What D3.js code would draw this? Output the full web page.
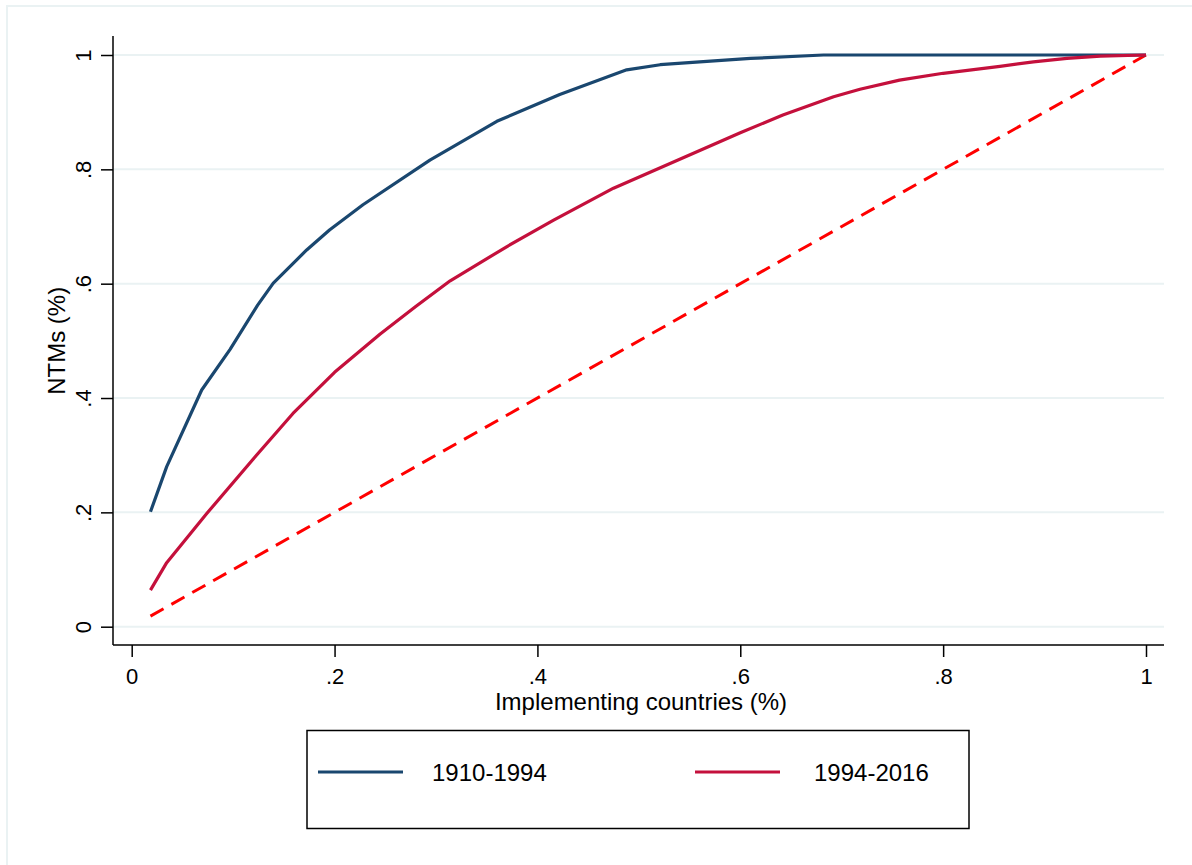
<!DOCTYPE html>
<html><head><meta charset="utf-8">
<script src="https://cdn.jsdelivr.net/npm/d3@7"></script>
<style>html,body{margin:0;padding:0;background:#fff;}svg{display:block;}</style>
</head><body>
<svg id="chart" width="1192" height="865"></svg>
<script>
// ---- data ----
const seriesNames = ["1910-1994", "1994-2016"];
const blueX = [0.0185,0.0345,0.069,0.097,0.124,0.1396,0.1725,0.195,0.228,0.294,0.360,0.422,0.488,0.521,0.560,0.610,0.682,0.74,1.0];
const blueY = [0.201,0.280,0.414,0.485,0.562,0.601,0.659,0.694,0.738,0.816,0.884,0.931,0.974,0.983,0.988,0.994,1.0,1.0,1.0];
const redX = [0.0185,0.0345,0.074,0.123,0.159,0.200,0.245,0.280,0.314,0.370,0.416,0.475,0.524,0.573,0.600,0.642,0.692,0.718,0.757,0.800,0.856,0.889,0.922,0.955,1.0];
const redY = [0.064,0.112,0.198,0.300,0.373,0.445,0.512,0.560,0.605,0.665,0.711,0.767,0.805,0.843,0.864,0.895,0.927,0.940,0.956,0.968,0.980,0.988,0.994,0.998,1.0];
const diagX = [0.0185, 1.0];
const diagY = [0.0185, 1.0];
const xTicks = [0, 0.2, 0.4, 0.6, 0.8, 1];
const yTicks = [0, 0.2, 0.4, 0.6, 0.8, 1];
const xTitle = "Implementing countries (%)";
const yTitle = "NTMs (%)";

const colors = ["#1a476f", "#c4103c"];
const font = "'Liberation Sans', Arial, sans-serif";

const svg = d3.select("#chart");
// outer frame
svg.append("rect").attr("x",7).attr("y",6).attr("width",1300).attr("height",1000)
  .attr("fill","none").attr("stroke","#eaf2f3").attr("stroke-width",2);

const x = d3.scaleLinear().domain([0,1]).range([131.7,1146]);
const y = d3.scaleLinear().domain([0,1]).range([626.7,55]);
const plotL = 113, plotR = 1164, plotT = 36, plotB = 645;
const fmt = d => d===0 ? "0" : d===1 ? "1" : String(d).replace(/^0/,"");

// gridlines
svg.append("g").selectAll("line").data(yTicks).join("line")
  .attr("x1",plotL).attr("x2",plotR).attr("y1",d=>y(d)).attr("y2",d=>y(d))
  .attr("stroke","#eaf2f3").attr("stroke-width",2);

// axes
const gx = svg.append("g").attr("transform",`translate(0,${plotB})`)
  .call(d3.axisBottom(x).tickValues(xTicks).tickFormat(fmt).tickSize(12).tickPadding(11));
gx.select(".domain").remove();
gx.selectAll(".tick line").attr("stroke","#000").attr("stroke-width",1.5);
gx.selectAll(".tick text").attr("font-family",font).attr("font-size",22).attr("fill","#000");

const gy = svg.append("g").attr("transform",`translate(${plotL},0)`)
  .call(d3.axisLeft(y).tickValues(yTicks).tickFormat(fmt).tickSize(12));
gy.select(".domain").remove();
gy.selectAll(".tick line").attr("stroke","#000").attr("stroke-width",1.5);
gy.selectAll(".tick text").attr("font-family",font).attr("font-size",22).attr("fill","#000")
  .attr("text-anchor","middle").attr("dy",null).attr("x",null)
  .attr("transform","translate(-22,0) rotate(-90)");

svg.append("line").attr("x1",plotL).attr("x2",plotL).attr("y1",plotT).attr("y2",plotB)
  .attr("stroke","#000").attr("stroke-width",1.5);
svg.append("line").attr("x1",plotL).attr("x2",plotR).attr("y1",plotB).attr("y2",plotB)
  .attr("stroke","#000").attr("stroke-width",1.5);

// titles
svg.append("text").attr("x",641).attr("y",710).attr("text-anchor","middle")
  .attr("font-family",font).attr("font-size",24).text(xTitle);
svg.append("text").attr("transform",`translate(65,${(y(0)+y(1))/2}) rotate(-90)`).attr("text-anchor","middle")
  .attr("font-family",font).attr("font-size",24).text(yTitle);

// lines
const line = d3.line().x(d=>x(d[0])).y(d=>y(d[1]));
svg.append("path").datum(diagX.map((v,i)=>[v,diagY[i]])).attr("d",line)
  .attr("fill","none").attr("stroke","#ff0000").attr("stroke-width",3).attr("stroke-dasharray","15,9");
svg.append("path").datum(blueX.map((v,i)=>[v,blueY[i]])).attr("d",line)
  .attr("fill","none").attr("stroke",colors[0]).attr("stroke-width",3.2).attr("stroke-linejoin","round");
svg.append("path").datum(redX.map((v,i)=>[v,redY[i]])).attr("d",line)
  .attr("fill","none").attr("stroke",colors[1]).attr("stroke-width",3.2).attr("stroke-linejoin","round");

// legend
const lg = svg.append("g");
lg.append("rect").attr("x",307).attr("y",730.5).attr("width",662).attr("height",98)
  .attr("fill","#fff").attr("stroke","#000").attr("stroke-width",1.5);
const legX = [318, 695];
const legTextX = [432, 814];
seriesNames.forEach((n,i)=>{
  lg.append("line").attr("x1",legX[i]).attr("x2",legX[i]+85).attr("y1",772).attr("y2",772)
    .attr("stroke",colors[i]).attr("stroke-width",3.2);
  lg.append("text").attr("x",legTextX[i]).attr("y",781).attr("font-family",font).attr("font-size",24).text(n);
});
</script>
</body></html>
